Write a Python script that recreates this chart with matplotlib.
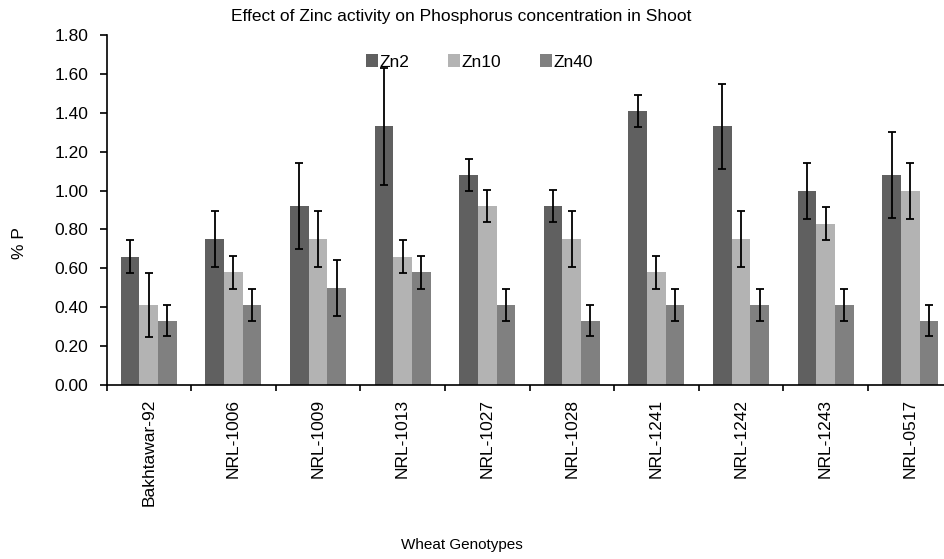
import numpy as np
import matplotlib
matplotlib.use('Agg')
import matplotlib.pyplot as plt

plt.rcParams['font.family'] = ['Liberation Sans', 'DejaVu Sans']

genotypes = ['Bakhtawar-92', 'NRL-1006', 'NRL-1009', 'NRL-1013', 'NRL-1027',
             'NRL-1028', 'NRL-1241', 'NRL-1242', 'NRL-1243', 'NRL-0517']

zn2 = [0.66, 0.75, 0.92, 1.33, 1.08, 0.92, 1.41, 1.33, 1.00, 1.08]
zn10 = [0.41, 0.58, 0.75, 0.66, 0.92, 0.75, 0.58, 0.75, 0.83, 1.00]
zn40 = [0.33, 0.41, 0.50, 0.58, 0.41, 0.33, 0.41, 0.41, 0.41, 0.33]

zn2_err = [0.084, 0.145, 0.22, 0.30, 0.084, 0.084, 0.084, 0.22, 0.144, 0.22]
zn10_err = [0.165, 0.085, 0.145, 0.084, 0.084, 0.145, 0.085, 0.145, 0.083, 0.144]
zn40_err = [0.08, 0.083, 0.145, 0.085, 0.083, 0.08, 0.083, 0.083, 0.083, 0.08]

series = [('Zn2', zn2, zn2_err, '#606060'),
          ('Zn10', zn10, zn10_err, '#b3b3b3'),
          ('Zn40', zn40, zn40_err, '#808080')]

W, H = 944, 559
fig = plt.figure(figsize=(W / 100, H / 100), dpi=100)
ax = fig.add_axes([106.5 / W, 1 - 385 / H, 846 / W, 350 / H])

x = np.arange(len(genotypes))
width = 0.22
for i, (name, vals, errs, col) in enumerate(series):
    ax.bar(x + (i - 1) * width, vals, width, color=col, label=name,
           edgecolor='none', zorder=2)
    ax.errorbar(x + (i - 1) * width, vals, yerr=errs, fmt='none', ecolor='black',
                elinewidth=1.3, capsize=3, capthick=1.3, zorder=3)

ax.set_xlim(-0.5, len(genotypes) - 0.5)
ax.set_ylim(0, 1.8)
ax.set_yticks(np.arange(0, 1.81, 0.2))
ax.set_yticklabels([f'{v:.2f}' for v in np.arange(0, 1.81, 0.2)], fontsize=12.5)
ax.set_xticks(x)
ax.set_xticklabels(genotypes, rotation=90, fontsize=12.5)
ax.set_xticks(np.arange(-0.5, len(genotypes), 1), minor=True)
ax.tick_params(axis='x', which='major', length=0, pad=10)
ax.tick_params(axis='x', which='minor', length=4, width=1.2, direction='out')
ax.tick_params(axis='y', length=5, width=1.2, direction='out', pad=8)

for s in ['top', 'right']:
    ax.spines[s].set_visible(False)
for s in ['left', 'bottom']:
    ax.spines[s].set_linewidth(1.2)

fig.text(461 / W, 1 - 17 / H, 'Effect of Zinc activity on Phosphorus concentration in Shoot',
         ha='center', va='center', fontsize=12.5)
fig.text(20 / W, 1 - 243 / H, '% P', rotation=90, ha='center', va='center', fontsize=12.5)
fig.text(462 / W, 1 - 545 / H, 'Wheat Genotypes', ha='center', va='center', fontsize=11)

leg = fig.legend(loc='center left', bbox_to_anchor=(366 / W, 1 - 62 / H), ncol=3,
                 frameon=False, fontsize=12.5, handlelength=0.7, handleheight=0.7,
                 handletextpad=0.1, columnspacing=2.2, borderaxespad=0, borderpad=0)

fig.savefig('out.png', dpi=100)
